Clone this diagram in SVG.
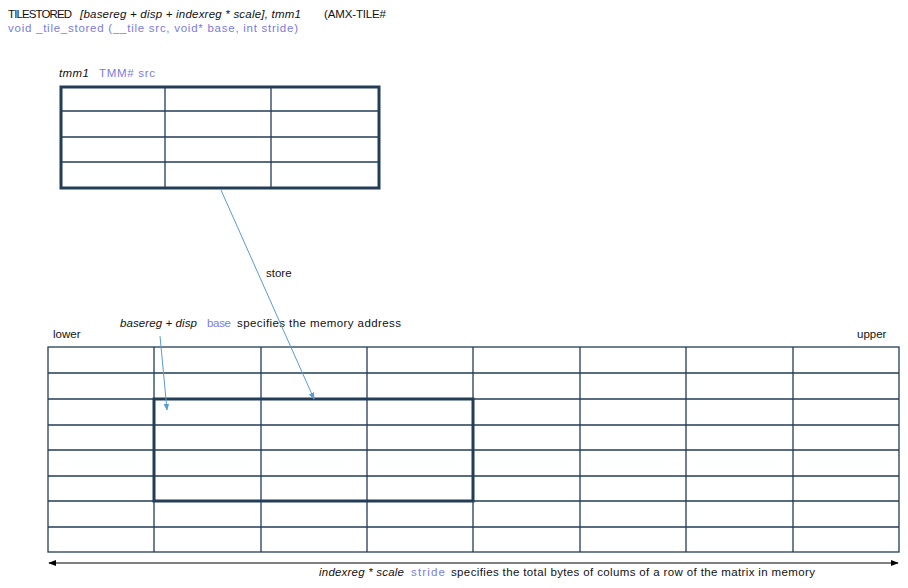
<svg xmlns="http://www.w3.org/2000/svg" width="908" height="588" viewBox="0 0 908 588">
<style>
text{font-family:"Liberation Sans",Arial,sans-serif;font-size:11.5px;fill:#111}
.i{font-style:italic}
.p{fill:#7b7bdf}
.g{stroke:#233d57;stroke-width:1.3;fill:none}
.b{stroke:#233d57;stroke-width:3;fill:none}
.a{stroke:#5b9bd5;stroke-width:1;fill:none}
</style>
<defs>
<marker id="ab" viewBox="0 0 10 10" refX="9" refY="5" markerWidth="7" markerHeight="7" orient="auto"><path d="M0,1 L10,5 L0,9 z" fill="#5b9bd5"/></marker>
<marker id="ak" viewBox="0 0 10 10" refX="9" refY="5" markerWidth="8" markerHeight="8" orient="auto-start-reverse"><path d="M0,1 L10,5 L0,9 z" fill="#000"/></marker>
</defs>
<g id="header">
<text x="8" y="18" textLength="64">TILESTORED</text>
<text x="80" y="18" class="i" textLength="221">[basereg + disp + indexreg * scale], tmm1</text>
<text x="324" y="18" textLength="62">(AMX-TILE#</text>
<text x="8" y="32" class="p" textLength="290">void _tile_stored (__tile  src, void* base,  int stride)</text>
</g>
<g id="tile">
<text x="59" y="77" class="i" textLength="30">tmm1</text>
<text x="99" y="77" class="p" textLength="56">TMM# src</text>
<path class="g" d="M61,111H379M61,137H379M61,162H379M165,87V188M271,87V188"/>
<rect class="b" x="61" y="87" width="318" height="101"/>
</g>
<g id="memory">
<text x="53" y="338">lower</text>
<text x="857" y="338">upper</text>
<rect class="g" x="48" y="347" width="851" height="205"/>
<path class="g" d="M48,373H899M48,399H899M48,425H899M48,450H899M48,476H899M48,501H899M48,527H899M154,347V552M261,347V552M367,347V552M473,347V552M580,347V552M686,347V552M793,347V552"/>
<rect class="b" x="154" y="399" width="319" height="102"/>
<text x="120" y="327" class="i" textLength="77">basereg + disp</text>
<text x="207" y="327" class="p" textLength="24">base</text>
<text x="237" y="327" textLength="164">specifies the memory  address</text>
<text x="319" y="576" class="i" textLength="85">indexreg * scale</text>
<text x="411" y="576" class="p" textLength="34">stride</text>
<text x="451" y="576" textLength="364">specifies the total bytes of colums of a row of the matrix in memory</text>
</g>
<g id="connectors">
<line class="a" x1="221" y1="190" x2="314" y2="399" marker-end="url(#ab)"/>
<text x="266" y="277">store</text>
<line class="a" x1="160" y1="336" x2="167" y2="410" marker-end="url(#ab)"/>
<line x1="49" y1="563" x2="898" y2="563" stroke="#000" stroke-width="1" marker-start="url(#ak)" marker-end="url(#ak)"/>
</g>
</svg>
